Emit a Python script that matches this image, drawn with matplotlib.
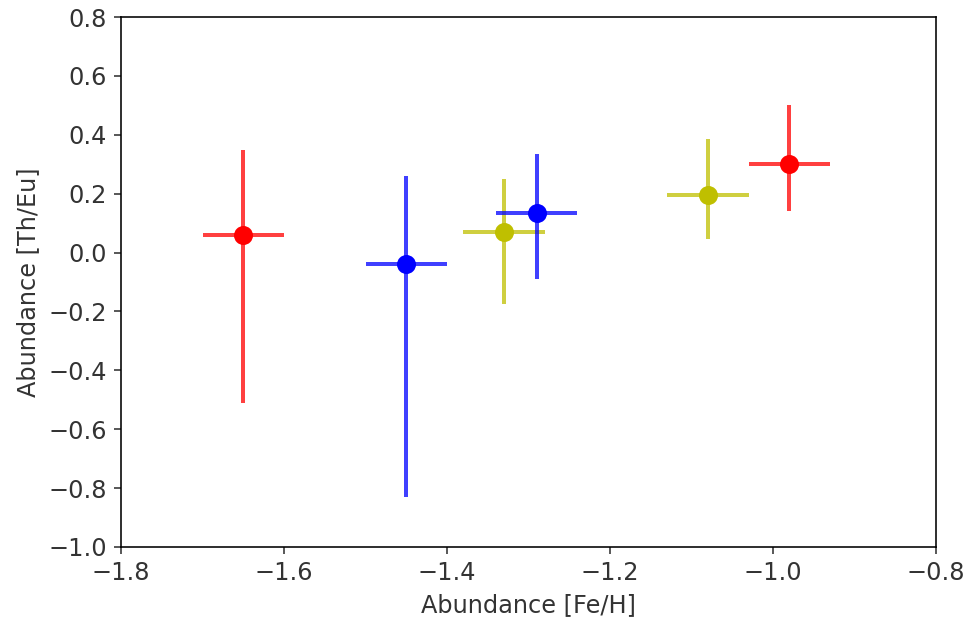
import matplotlib
matplotlib.use("Agg")
import matplotlib.pyplot as plt
import numpy as np

# [Fe/H] and [Th/Eu] abundances per star
colors = ['r', 'b', 'y', 'b', 'y', 'r']
fe_h = [-1.65, -1.45, -1.33, -1.29, -1.08, -0.98]
th_eu = [0.06, -0.04, 0.07, 0.135, 0.195, 0.30]
fe_err = [0.05, 0.05, 0.05, 0.05, 0.05, 0.05]
th_err_low = [0.57, 0.79, 0.245, 0.225, 0.15, 0.16]
th_err_high = [0.29, 0.30, 0.18, 0.20, 0.19, 0.20]

text_col = '#333333'
plt.rcParams['font.size'] = 12
plt.rcParams['text.color'] = text_col
plt.rcParams['axes.labelcolor'] = text_col
plt.rcParams['xtick.color'] = text_col
plt.rcParams['ytick.color'] = text_col

fig, ax = plt.subplots(figsize=(967/144, 628/144), dpi=144)
fig.subplots_adjust(left=121/967, right=936/967, top=1-17/628, bottom=1-547/628)

for i in range(len(fe_h)):
    line, caps, bars = ax.errorbar(fe_h[i], th_eu[i], xerr=fe_err[i],
                                   yerr=[[th_err_low[i]], [th_err_high[i]]],
                                   fmt='o', color=colors[i], ecolor=colors[i],
                                   elinewidth=2, markersize=8.5)
    for b in bars:
        b.set_alpha(0.75)

ax.set_xlim(-1.8, -0.8)
ax.set_ylim(-1.0, 0.8)
ax.set_xticks(np.arange(-1.8, -0.79, 0.2))
ax.set_yticks(np.arange(-1.0, 0.81, 0.2))
ax.set_xlabel('Abundance [Fe/H]')
ax.set_ylabel('Abundance [Th/Eu]')

fig.savefig('out.png', dpi=144)
